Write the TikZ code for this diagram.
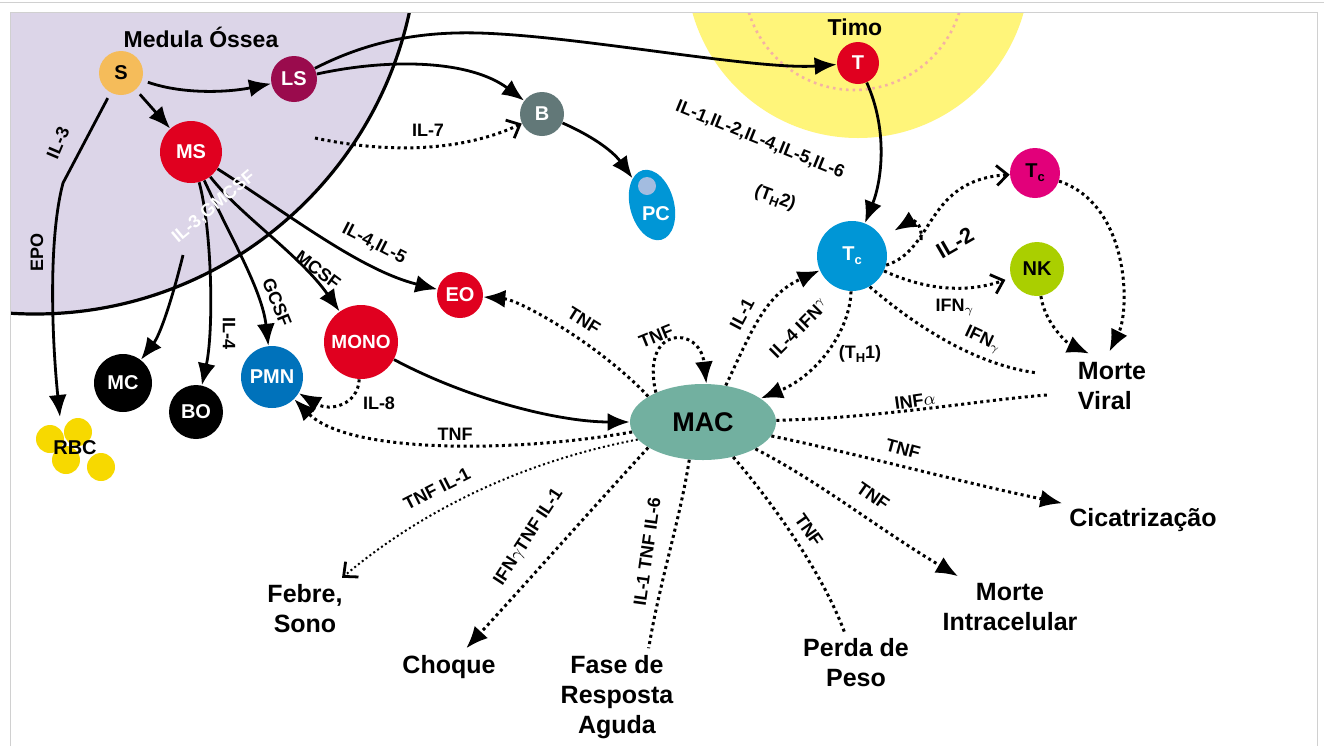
\documentclass[tikz,border=0pt]{standalone}
\usepackage{fontspec}
\setmainfont{Liberation Sans}
\usepackage{tikz}
\usetikzlibrary{arrows.meta,positioning,shapes.geometric}
\definecolor{marrow}{HTML}{DCD5E8}
\definecolor{thymus}{HTML}{FFF57A}
\definecolor{thymusring}{HTML}{F4B2A4}
\definecolor{stemcol}{HTML}{F5BC5A}
\definecolor{lscol}{HTML}{9A0B4D}
\definecolor{redcell}{HTML}{E0001F}
\definecolor{bcol}{HTML}{627878}
\definecolor{bluecell}{HTML}{0096D6}
\definecolor{pcdot}{HTML}{A3BCE0}
\definecolor{tkcol}{HTML}{E2007A}
\definecolor{nkcol}{HTML}{AACF00}
\definecolor{pmncol}{HTML}{0072BB}
\definecolor{maccol}{HTML}{72B0A0}
\definecolor{rbccol}{HTML}{F7D900}
\definecolor{framecol}{HTML}{D0D0D0}
\newcommand{\lowsub}[1]{\raisebox{-0.4ex}{\fontsize{6.5}{7}\selectfont #1}}
\tikzset{
  cell/.style={circle, inner sep=0pt, text=white, font=\bfseries\fontsize{10}{12}\selectfont},
  lbl/.style={inner sep=1pt, font=\bfseries\fontsize{9}{10}\selectfont},
  heading/.style={font=\bfseries\fontsize{11.5}{13}\selectfont},
  fate/.style={align=center, font=\bfseries\fontsize{12.5}{15}\selectfont},
  sol/.style={line width=1.4pt, -{Latex[length=11pt,width=9pt]}},
  dotline/.style={line width=1.5pt, dash pattern=on 1.5pt off 1.7pt},
  dotarrow/.style={dotline, -{Latex[length=11pt,width=9pt]}},
  dotopen/.style={dotline, -{Straight Barb[length=5.5pt,width=10pt,line width=1.4pt]}},
}

\begin{document}
\begin{tikzpicture}[x=0.5pt,y=-0.5pt]
\useasboundingbox[fill=white] (0,0) rectangle (1324,746);
\begin{scope}
\clip (10,12) rectangle (1317,746);
\fill[marrow] (35,-69) circle (383);
\fill[thymus] (858,-34) circle (172);
\draw[thymusring, line width=1.3pt, dash pattern=on 1.3pt off 2pt] (854,-20) circle (110);
\draw[line width=1.6pt] (35,-69) circle (383);
\end{scope}
\draw[framecol] (0,2.5) -- (1324,2.5);
\draw[framecol] (10,746) -- (10,12) -- (1317,12) -- (1317,746);

\node[heading, anchor=base] (marrowtitle) at (201,47) {Medula Óssea};
\node[heading, anchor=base] (thymustitle) at (855,35) {Timo};

\node[cell, fill=stemcol, text=black, minimum size=22pt] (S) at (121,73) {S};
\node[cell, fill=lscol, minimum size=23pt] (LS) at (294,79) {LS};
\node[cell, fill=redcell, minimum size=31pt] (MS) at (191,152) {MS};
\node[cell, fill=bcol, minimum size=22pt] (B) at (542,114) {B};
\node[ellipse, fill=bluecell, minimum width=22pt, minimum height=36pt, rotate=15, inner sep=0pt] (PC) at (652,205) {};
\fill[pcdot] (647,186) circle (9);
\node[cell] (PClbl) at (656,214) {PC};
\node[cell, fill=redcell, minimum size=21pt] (T) at (858,63) {T};
\node[cell, fill=bluecell, minimum size=35pt] (Th) at (852,256) {T\lowsub{c}};
\node[cell, fill=tkcol, text=black, minimum size=25pt] (Tk) at (1035,173) {T\lowsub{c}};
\node[cell, fill=nkcol, text=black, minimum size=27pt] (NK) at (1037,269) {NK};
\node[cell, fill=redcell, minimum size=23pt] (EO) at (460,295) {EO};
\node[cell, fill=redcell, minimum size=37pt, font=\bfseries\fontsize{9.5}{11}\selectfont] (MONO) at (361,342) {MONO};
\node[cell, fill=pmncol, minimum size=31pt] (PMN) at (272,377) {PMN};
\node[cell, fill=black, minimum size=29pt] (MC) at (123,383) {MC};
\node[cell, fill=black, minimum size=27pt] (BO) at (196,412) {BO};
\fill[rbccol] (50,439) circle (14) (78,432) circle (14) (66,460) circle (14) (101,467) circle (14);
\node[cell, text=black] (RBC) at (75,448) {RBC};
\node[ellipse, fill=maccol, minimum width=73pt, minimum height=38pt, inner sep=0pt, font=\bfseries\fontsize{13.5}{15}\selectfont] (MAC) at (703,422) {MAC};

\node[fate, align=left] (viral) at (1112,386) {Morte\\Viral};
\node[fate] (scar) at (1143,520) {Cicatrização};
\node[fate] (intra) at (1010,607) {Morte\\Intracelular};
\node[fate] (weight) at (856,663) {Perda de\\Peso};
\node[fate] (phase) at (617,697) {Fase de\\Resposta\\Aguda};
\node[fate] (shock) at (449,667) {Choque};
\node[fate] (fever) at (305,609) {Febre,\\Sono};

\coordinate (rbcin) at (60,417);
\coordinate (mcstart) at (183,255);
\coordinate (il7start) at (315,138);
\coordinate (il2fork) at (921,240);
\coordinate (ifnend) at (1038,373);
\coordinate (infend) at (1047,395);

\draw[sol, shorten <=3pt] (S) .. controls (185,95) and (230,92) .. (LS);
\draw[sol, shorten <=3pt] (S) -- (MS);
\draw[sol, shorten <=3pt] (S) -- (63,183) .. controls (48,240) and (52,340) .. (rbcin);
\draw[sol] (LS) .. controls (380,35) and (440,30) .. (500,34) .. controls (600,40) and (760,70) .. (T);
\draw[sol] (LS) .. controls (390,58) and (470,60) .. (B);
\draw[sol] (B) .. controls (590,135) and (612,150) .. (PC);
\draw[dotopen] (il7start) .. controls (400,156) and (470,148) .. (B);
\draw[sol] (MS) .. controls (290,215) and (360,270) .. (EO);
\draw[sol] (MS) .. controls (240,215) and (300,255) .. (MONO);
\draw[sol] (MS) .. controls (232,240) and (262,290) .. (PMN);
\draw[sol] (MS) .. controls (212,230) and (214,330) .. (BO);
\draw[sol] (mcstart) .. controls (172,300) and (160,335) .. (MC);
\draw[sol] (MONO) .. controls (470,400) and (560,422) .. (MAC);
\draw[dotarrow] (MONO) .. controls (358,405) and (330,412) .. (PMN);
\draw[dotarrow] (MAC.-172) .. controls (520,452) and (350,455) .. (PMN);
\draw[dotarrow] (MAC.155) .. controls (600,345) and (520,300) .. (EO);
\draw[dotarrow] (MAC.148) .. controls (640,325) and (700,325) .. (MAC.85);
\draw[dotarrow] (MAC.58) .. controls (752,330) and (765,295) .. (Th);
\draw[dotarrow] (Th) .. controls (850,330) and (818,375) .. (MAC);
\draw[sol] (T) .. controls (888,130) and (882,180) .. (Th);
\draw[dotopen] (Th.-15) .. controls (935,250) and (925,180) .. (Tk);
\draw[dotarrow, shorten >=7pt] (il2fork) .. controls (923,222) and (912,220) .. (Th);
\draw[dotopen, shorten >=3pt] (Th.-25) .. controls (930,292) and (970,292) .. (NK);
\draw[dotline] (Th.-60) .. controls (920,330) and (980,366) .. (ifnend);
\draw[dotarrow, shorten >=2pt] (Tk) .. controls (1130,205) and (1130,310) .. (viral.98);
\draw[dotarrow, shorten >=2pt] (NK) .. controls (1045,325) and (1070,345) .. (viral.122);
\draw[dotline] (MAC) .. controls (880,418) and (980,400) .. (infend);
\draw[dotarrow] (MAC) .. controls (850,452) and (960,482) .. (scar);
\draw[dotarrow] (MAC) .. controls (820,482) and (880,530) .. (intra);
\draw[dotline] (MAC) .. controls (772,502) and (822,572) .. (weight);
\draw[dotline] (MAC.-110) .. controls (680,520) and (660,580) .. (phase.57);
\draw[dotarrow] (MAC.-155) .. controls (600,500) and (520,590) .. (shock);
\draw[dotopen, line width=1pt, dash pattern=on 1pt off 1.4pt] (MAC.-165) .. controls (520,462) and (420,512) .. (fever);

\node[lbl, rotate=67] (lil3) at (58,143) {IL-3};
\node[lbl, rotate=90] (lepo) at (37,252) {EPO};
\node[lbl] (lil7) at (428,130) {IL-7};
\node[lbl, text=white, rotate=40] (lgm) at (214,207) {IL-3,GMCSF};
\node[lbl, rotate=-27] (lil45) at (374,244) {IL-4,IL-5};
\node[lbl, rotate=-37] (lmcsf) at (318,270) {MCSF};
\node[lbl, rotate=-68] (lgcsf) at (277,302) {GCSF};
\node[lbl, rotate=-90] (lil4) at (229,333) {IL-4};
\node[lbl] (lil8) at (379,403) {IL-8};
\node[lbl] (ltnfpmn) at (455,434) {TNF};
\node[lbl, rotate=-32] (ltnfeo) at (584,321) {TNF};
\node[lbl, rotate=22] (ltnfself) at (656,336) {TNF};
\node[lbl, rotate=62] (lil1) at (742,314) {IL-1};
\node[lbl, rotate=45] (lil4ifn) at (799,328) {IL-4 IFN$^\gamma$};
\node[lbl] (lth1) at (860,354) {(T\lowsub{H}1)};
\node[lbl, rotate=-22] (lils) at (760,140) {IL-1,IL-2,IL-4,IL-5,IL-6};
\node[lbl, rotate=-20] (lth2) at (775,198) {(T\lowsub{H}2)};
\node[lbl, rotate=30, font=\bfseries\fontsize{11}{12}\selectfont] (lil2) at (955,243) {IL-2};
\node[lbl] (lifnnk) at (955,307) {IFN$_\gamma$};
\node[lbl, rotate=-25] (lifnv) at (983,340) {IFN$_\gamma$};
\node[lbl, rotate=8] (linf) at (915,401) {INF$\alpha$};
\node[lbl, rotate=-15] (ltnfscar) at (903,449) {TNF};
\node[lbl, rotate=-35] (ltnfintra) at (873,496) {TNF};
\node[lbl, rotate=-55] (ltnfw) at (809,530) {TNF};
\node[lbl, rotate=82] (lfase) at (647,552) {IL-1 TNF IL-6};
\node[lbl, rotate=57] (lshock) at (529,537) {IFN$\gamma$TNF IL-1};
\node[lbl, rotate=27] (lfever) at (437,489) {TNF IL-1};
\end{tikzpicture}
\end{document}
